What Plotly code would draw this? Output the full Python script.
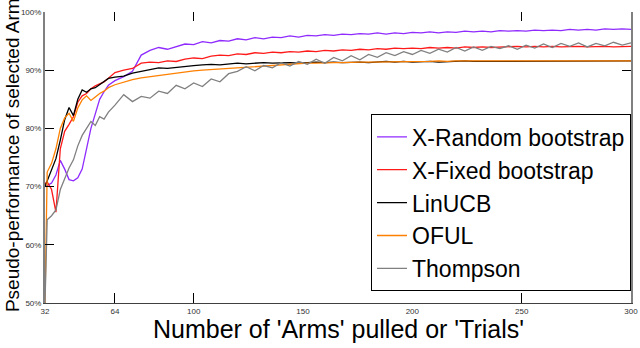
import plotly.graph_objects as go

# x: number of arms pulled / trials
trials = [32, 33, 35, 37, 39, 41, 43, 45, 47, 49, 51, 53, 55, 57, 59, 61,
          64, 68, 72, 76, 80, 84, 88, 92, 96, 100, 104, 108, 112, 116, 120, 124,
          128, 132, 136, 140, 144, 148, 152, 156, 160, 164, 168, 172, 176, 180, 184, 188,
          192, 196, 200, 204, 208, 212, 216, 220, 224, 228, 232, 236, 240, 244, 248, 252,
          256, 260, 264, 268, 272, 276, 280, 284, 288, 292, 296, 300]

# pseudo-performance (%)
x_random = [70.0, 70.2, 70.6, 72.0, 74.5, 73.0, 71.2, 71.0, 71.5, 73.0, 76.5, 80.0, 82.5, 85.0, 86.3, 87.4,
            88.2, 88.9, 89.8, 92.6, 93.4, 93.9, 93.6, 94.1, 94.5, 94.4, 94.9, 94.7, 95.1, 95.0, 95.4, 95.2,
            95.6, 95.4, 95.7, 95.6, 95.9, 95.7, 96.0, 95.9, 96.1, 96.0, 96.2, 96.1, 96.3, 96.2, 96.4, 96.2,
            96.4, 96.3, 96.5, 96.4, 96.6, 96.4, 96.6, 96.5, 96.7, 96.6, 96.7, 96.6, 96.8, 96.7, 96.8, 96.7,
            96.9, 96.8, 96.9, 96.8, 97.0, 96.9, 97.0, 96.9, 97.1, 97.0, 97.1, 97.0]
x_fixed = [70.5, 70.8, 69.5, 65.6, 76.5, 79.5, 80.7, 82.0, 84.5, 85.6, 86.0, 86.8, 87.3, 87.6, 88.0, 88.6,
           89.6, 90.0, 90.3, 91.2, 91.4, 91.3, 91.6, 91.5, 91.9, 92.1, 92.0, 92.4, 92.6, 92.5, 92.8, 92.7,
           93.0, 92.9, 93.1, 93.0, 93.2, 93.1, 93.3, 93.2, 93.4, 93.3, 93.5, 93.4, 93.6, 93.5, 93.7, 93.6,
           93.8, 93.7, 93.8, 93.7, 93.9, 93.8, 93.9, 93.8, 94.0, 93.9, 94.0, 93.9, 94.0, 94.0, 94.1, 94.0,
           94.1, 94.0, 94.1, 94.0, 94.1, 94.1, 94.0, 94.1, 94.1, 94.0, 94.1, 94.1]
linucb = [70.0, 71.0, 72.8, 74.8, 78.0, 81.5, 83.6, 82.2, 85.0, 86.6, 86.2, 86.8, 87.0, 87.5, 88.0, 88.6,
          88.8, 89.0, 89.5, 89.8, 90.2, 90.4, 90.3, 90.5, 90.7, 90.8, 90.9, 91.0, 90.9, 91.1, 91.2, 91.1,
          91.2, 91.3, 91.2, 91.3, 91.3, 91.2, 91.3, 91.4, 91.3, 91.4, 91.3, 91.4, 91.4, 91.3, 91.4, 91.5,
          91.4, 91.5, 91.4, 91.5, 91.5, 91.4, 91.5, 91.5, 91.6, 91.5, 91.5, 91.6, 91.5, 91.6, 91.6, 91.5,
          91.6, 91.6, 91.5, 91.6, 91.6, 91.6, 91.5, 91.6, 91.6, 91.6, 91.6, 91.6]
oful = [50.0, 72.5, 74.0, 76.5, 80.0, 81.8, 82.6, 81.2, 83.5, 84.9, 85.6, 84.8, 85.4, 86.0, 86.4, 87.0,
        87.5, 88.0, 88.4, 88.7, 88.9, 89.2, 89.3, 89.6, 89.7, 89.9, 90.0, 90.1, 90.3, 90.3, 90.5, 90.5,
        90.7, 90.8, 90.9, 91.0, 91.1, 91.1, 91.2, 91.2, 91.3, 91.3, 91.3, 91.4, 91.4, 91.4, 91.4, 91.5,
        91.5, 91.5, 91.5, 91.5, 91.5, 91.6, 91.5, 91.6, 91.6, 91.6, 91.6, 91.6, 91.6, 91.6, 91.6, 91.6,
        91.6, 91.6, 91.6, 91.6, 91.6, 91.6, 91.6, 91.6, 91.6, 91.6, 91.6, 91.6]
thompson = [50.0, 64.3, 65.0, 66.0, 69.5, 71.5, 73.2, 74.6, 77.0, 78.8, 80.0, 81.2, 80.5, 82.0, 81.6, 82.8,
            84.0, 85.8, 84.6, 85.5, 85.2, 86.4, 86.0, 87.4, 86.8, 87.8, 87.2, 88.5, 88.0, 89.4, 89.8, 90.6,
            89.9, 90.8, 90.4, 91.3, 90.7, 91.5, 91.0, 91.9, 91.2, 92.2, 91.6, 92.5, 91.8, 92.7, 92.2, 93.0,
            92.5, 93.2, 92.7, 93.4, 92.9, 93.6, 93.1, 93.9, 93.3, 94.0, 93.4, 94.1, 93.7, 94.2, 93.6, 94.3,
            93.8, 94.5, 93.9, 94.6, 94.1, 94.7, 94.0, 94.6, 94.2, 94.8, 94.3, 94.7]

x_ticks = [32, 64, 100, 150, 200, 250, 300]
x_tick_marks = [64, 100, 250]   # only these tick marks are visible in the chart
y_ticks = [50, 60, 70, 80, 90, 100]
y_ticktext = ['50%', '60%', '70%', '80%', '90%', '100%']

series = [
    ('X-Random bootstrap', x_random, '#8f2bff'),
    ('X-Fixed bootstrap', x_fixed, '#ff1a1a'),
    ('LinUCB', linucb, '#000000'),
    ('OFUL', oful, '#ff8000'),
    ('Thompson', thompson, '#808080'),
]

FONT = 'Liberation Sans, Arial, sans-serif'

fig = go.Figure()
for name, vals, color in series:
    fig.add_trace(go.Scatter(x=trials, y=vals, mode='lines', name=name,
                             line=dict(color=color, width=1.3)))

# 刻度线用的覆盖轴 (上/下)
fig.add_trace(go.Scatter(x=[], y=[], xaxis='x2', showlegend=False, hoverinfo='skip'))
fig.add_trace(go.Scatter(x=[], y=[], xaxis='x3', showlegend=False, hoverinfo='skip'))

tick_axis = dict(range=[32, 300], overlaying='x', tickvals=x_tick_marks,
                 ticks='inside', tickcolor='#000', showticklabels=False,
                 showgrid=False, zeroline=False, showline=False)

fig.update_layout(
    width=640, height=348,
    margin=dict(l=45, r=9, t=12, b=45, autoexpand=False),
    paper_bgcolor='white', plot_bgcolor='white',
    font=dict(family=FONT, color='#000'),
    showlegend=True,
    legend=dict(x=1, xanchor='right', y=0.04, yanchor='bottom',
                bgcolor='white', bordercolor='#000', borderwidth=1,
                font=dict(size=23, family=FONT), itemwidth=30,
                tracegroupgap=0),
    xaxis=dict(range=[32, 300], tickvals=x_ticks, ticks='',
               tickfont=dict(size=8, color='#333'),
               showgrid=False, zeroline=False, showline=True,
               linecolor='#404040', linewidth=1),
    xaxis2=dict(side='top', ticklen=9, **tick_axis),
    xaxis3=dict(side='bottom', ticklen=10, **tick_axis),
    yaxis=dict(range=[50, 100], tickvals=y_ticks, ticktext=y_ticktext,
               ticks='inside', ticklen=9, tickcolor='#000',
               tickfont=dict(size=8, color='#333'),
               showgrid=False, zeroline=False, showline=True, mirror='ticks',
               linecolor='#808080', linewidth=2),
    annotations=[
        dict(text="Number of 'Arms' pulled or 'Trials'", xref='paper', yref='paper',
             x=0.5, y=-0.09, xanchor='center', yanchor='middle', showarrow=False,
             font=dict(size=25, family=FONT, color='#000')),
        dict(text='Pseudo-performance of selected Arms', xref='paper', yref='paper',
             x=-0.0563, y=0.522, xanchor='center', yanchor='middle', showarrow=False,
             textangle=-90, font=dict(size=19, family=FONT, color='#000')),
    ],
)

# 去掉页面默认的 8px 边距
fig.write_html('out.html', config={'displayModeBar': False},
               post_script="document.body.style.margin='0';")
